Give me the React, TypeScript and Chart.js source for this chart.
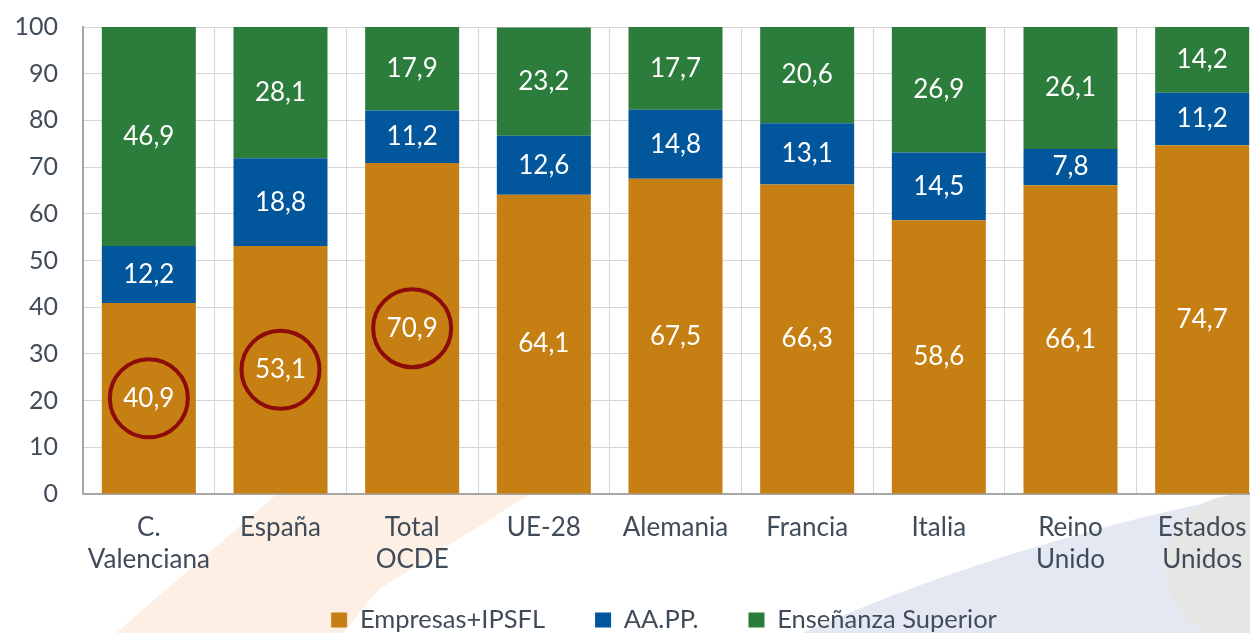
import React, { useEffect, useRef } from 'react';
import { Chart, registerables } from 'chart.js';

Chart.register(...registerables);

// ---- data ----
const categories: (string | string[])[] = [
  ['C.', 'Valenciana'],
  'España',
  ['Total', 'OCDE'],
  'UE-28',
  'Alemania',
  'Francia',
  'Italia',
  ['Reino', 'Unido'],
  ['Estados', 'Unidos'],
];
const seriesNames = ['Empresas+IPSFL', 'AA.PP.', 'Enseñanza Superior'];
const empresas = [40.9, 53.1, 70.9, 64.1, 67.5, 66.3, 58.6, 66.1, 74.7];
const aapp = [12.2, 18.8, 11.2, 12.6, 14.8, 13.1, 14.5, 7.8, 11.2];
const ensenanza = [46.9, 28.1, 17.9, 23.2, 17.7, 20.6, 26.9, 26.1, 14.2];
const circledBars = [0, 1, 2]; // Empresas+IPSFL labels circled in red
const yMin = 0;
const yMax = 100;
const yStep = 10;

// ---- style ----
const FONT = 'Lato, "Noto Sans", sans-serif';
const TEXT = '#404c59';
const COLORS = ['#C57F12', '#02569B', '#2C7C3B'];
const CANVAS_W = 1268;
const CANVAS_H = 664;
const PLOT_TOP = 27;
const Y_AXIS_W = 83;
const X_AXIS_H = 84.5;
const LEGEND_FONT = 25.5;
const LEGEND_PAD = 50;
const LEGEND_CENTER_X = 664;
const LEGEND_CENTER_Y = 620;

const fmt = (v: number) => v.toFixed(1).replace('.', ',');

const backgroundPlugin = {
  id: 'bgDecor',
  beforeDraw(chart: any) {
    const { ctx, chartArea } = chart;
    ctx.save();
    ctx.fillStyle = '#ffffff';
    ctx.fillRect(0, 0, chart.width, chart.height);
    // peach diagonal band
    ctx.fillStyle = '#FDEFE4';
    ctx.beginPath();
    ctx.moveTo(277, 494);
    ctx.lineTo(530, 494);
    ctx.lineTo(378, 590);
    ctx.lineTo(318, 664);
    ctx.lineTo(80, 664);
    ctx.closePath();
    ctx.fill();
    // light blue swoosh
    ctx.fillStyle = '#E4E8F3';
    ctx.beginPath();
    ctx.moveTo(740, 664);
    ctx.bezierCurveTo(870, 595, 1060, 530, 1268, 490);
    ctx.lineTo(1268, 664);
    ctx.closePath();
    ctx.fill();
    // grey circle
    ctx.fillStyle = '#E6E7E4';
    ctx.beginPath();
    ctx.arc(1237, 567, 72, 0, Math.PI * 2);
    ctx.fill();
    // plot area white
    ctx.fillStyle = '#ffffff';
    ctx.fillRect(chartArea.left, chartArea.top, chartArea.right - chartArea.left, chartArea.bottom - chartArea.top);
    ctx.restore();
  },
};

const legendShiftPlugin = {
  id: 'legendShift',
  afterLayout(chart: any) {
    const lg = chart.legend;
    if (!lg) return;
    const dx = LEGEND_CENTER_X - (lg.left + lg.right) / 2;
    const dy = LEGEND_CENTER_Y - (lg.top + LEGEND_PAD + LEGEND_FONT / 2);
    lg.left += dx;
    lg.right += dx;
    lg.top += dy;
    lg.bottom += dy;
  },
};

const labelsPlugin = {
  id: 'segLabels',
  afterDatasetsDraw(chart: any) {
    const { ctx } = chart;
    ctx.save();
    ctx.font = `26px ${FONT}`;
    ctx.fillStyle = '#ffffff';
    ctx.textAlign = 'center';
    ctx.textBaseline = 'middle';
    chart.data.datasets.forEach((ds: any, di: number) => {
      const meta = chart.getDatasetMeta(di);
      meta.data.forEach((el: any, i: number) => {
        const p = el.getCenterPoint();
        ctx.fillText(fmt(ds.data[i]), p.x, p.y);
      });
    });
    // red circles
    const meta0 = chart.getDatasetMeta(0);
    ctx.strokeStyle = '#8E0B0B';
    ctx.lineWidth = 4;
    circledBars.forEach((i) => {
      const p = meta0.data[i].getCenterPoint();
      ctx.beginPath();
      ctx.arc(p.x, p.y, 39, 0, Math.PI * 2);
      ctx.stroke();
    });
    ctx.restore();
  },
};

export default function App() {
  const ref = useRef<HTMLCanvasElement | null>(null);

  useEffect(() => {
    if (!ref.current) return;
    const seriesData = [empresas, aapp, ensenanza];
    const chart = new Chart(ref.current, {
      type: 'bar',
      data: {
        labels: categories,
        datasets: seriesNames.map((name, k) => ({
          label: name,
          data: seriesData[k],
          backgroundColor: COLORS[k],
          borderWidth: 0,
          categoryPercentage: 1,
          barPercentage: 0.714,
        })),
      },
      options: {
        responsive: false,
        animation: false,
        events: [],
        layout: { padding: { top: PLOT_TOP, left: 0, right: 0, bottom: 0 } },
        scales: {
          x: {
            stacked: true,
            grid: { color: '#D6D6D6', lineWidth: 1, drawTicks: false },
            border: { color: '#A6A6A6', width: 2 },
            ticks: {
              color: TEXT,
              font: { family: FONT, size: 26, lineHeight: 1.23 },
              padding: 18,
              maxRotation: 0,
              autoSkip: false,
            },
            afterFit(scale: any) {
              scale.height = X_AXIS_H;
              scale.paddingLeft = 0;
              scale.paddingRight = 0;
            },
          },
          y: {
            stacked: true,
            min: yMin,
            max: yMax,
            grid: { color: '#D6D6D6', lineWidth: 1, drawTicks: false },
            border: { color: '#A6A6A6', width: 2 },
            ticks: {
              stepSize: yStep,
              color: TEXT,
              font: { family: FONT, size: 25 },
              padding: 25,
            },
            afterFit(scale: any) {
              scale.width = Y_AXIS_W;
              scale.paddingTop = 0;
              scale.paddingBottom = 0;
            },
          },
        },
        plugins: {
          legend: {
            position: 'bottom',
            labels: {
              color: TEXT,
              font: { family: FONT, size: LEGEND_FONT },
              boxWidth: 16,
              boxHeight: 15,
              padding: LEGEND_PAD,
            },
          },
          tooltip: { enabled: false },
        },
      },
      plugins: [backgroundPlugin, legendShiftPlugin, labelsPlugin],
    });
    return () => chart.destroy();
  }, []);

  return (
    <div
      style={{
        position: 'fixed',
        left: 0,
        top: 0,
        width: 1250,
        height: 633,
        overflow: 'hidden',
        background: '#ffffff',
      }}
    >
      <canvas ref={ref} width={CANVAS_W} height={CANVAS_H} style={{ display: 'block' }} />
    </div>
  );
}
